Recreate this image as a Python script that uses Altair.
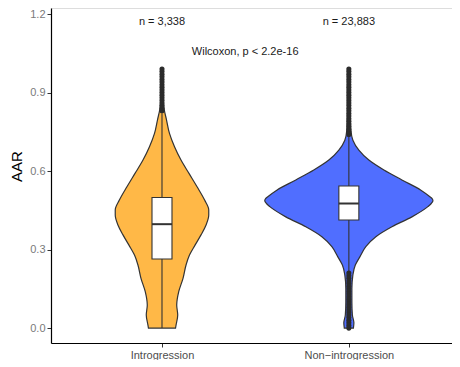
import altair as alt
import pandas as pd

# ---- data ----
groups = ["Introgression", "Non-introgression"]
group_pos = [1, 2]
fill_colors = ["#FFB847", "#506EFF"]

# violin profiles (AAR value, relative density width; max of all = 1)
intro_y = [0.0, 0.011, 0.05, 0.088, 0.139, 0.19, 0.241, 0.279, 0.317, 0.356, 0.394, 0.432,
           0.451, 0.489, 0.54, 0.591, 0.642, 0.693, 0.744, 0.795, 0.84, 0.871, 0.93, 0.99]
intro_d = [0.161, 0.167, 0.187, 0.175, 0.199, 0.25, 0.286, 0.327, 0.393, 0.464, 0.524, 0.556,
           0.556, 0.507, 0.417, 0.321, 0.226, 0.149, 0.089, 0.054, 0.024, 0.015, 0.01, 0.004]
non_y = [0.0, 0.02, 0.05, 0.10, 0.15, 0.203, 0.241, 0.272, 0.311, 0.349, 0.387, 0.425, 0.464,
         0.476, 0.487, 0.495, 0.502, 0.527, 0.566, 0.604, 0.642, 0.68, 0.718, 0.757, 0.80,
         0.90, 0.99]
non_d = [0.054, 0.06, 0.042, 0.036, 0.036, 0.048, 0.077, 0.131, 0.202, 0.321, 0.512, 0.75, 0.94,
         0.98, 1.0, 0.99, 0.964, 0.857, 0.631, 0.417, 0.238, 0.119, 0.048, 0.024, 0.018,
         0.012, 0.006]

# box statistics
q1 = [0.264, 0.413]
median = [0.397, 0.476]
q3 = [0.499, 0.543]
whisker_lo = [0.0, 0.215]
whisker_hi = [0.82, 0.735]

# outliers
intro_out = [0.83, 0.84, 0.85, 0.86, 0.87, 0.88, 0.89, 0.90, 0.91, 0.92, 0.93, 0.94, 0.95,
             0.96, 0.97, 0.98, 0.99]
non_out = [0.74, 0.75, 0.76, 0.77, 0.78, 0.79, 0.80, 0.81, 0.82, 0.83, 0.84, 0.85, 0.86, 0.87,
           0.88, 0.89, 0.90, 0.91, 0.92, 0.93, 0.94, 0.95, 0.96, 0.97, 0.98, 0.99,
           0.0, 0.01, 0.02, 0.03, 0.04, 0.05, 0.06, 0.07, 0.08, 0.09, 0.10, 0.11, 0.12,
           0.13, 0.14, 0.15, 0.16, 0.17, 0.18, 0.19, 0.20, 0.21]

n_labels = ["n = 3,338", "n = 23,883"]
test_label = "Wilcoxon, p < 2.2e-16"

# ---- tables ----
violin = pd.concat([
    pd.DataFrame({"group": groups[0], "pos": group_pos[0], "y": intro_y, "d": intro_d}),
    pd.DataFrame({"group": groups[1], "pos": group_pos[1], "y": non_y, "d": non_d}),
])
box = pd.DataFrame({"group": groups, "pos": group_pos, "q1": q1, "med": median, "q3": q3,
                    "lo": whisker_lo, "hi": whisker_hi})
outl = pd.concat([
    pd.DataFrame({"pos": group_pos[0], "v": intro_out}),
    pd.DataFrame({"pos": group_pos[1], "v": non_out}),
])
texts = pd.DataFrame({"pos": group_pos + [1.445], "yv": [1.169, 1.169, 1.055],
                      "label": n_labels + [test_label]})

FONT = "Liberation Sans"
xscale = alt.Scale(domain=[0.406, 2.552], nice=False, zero=False)
yscale = alt.Scale(domain=[-0.057, 1.223], nice=False, zero=False)

x_axis = alt.Axis(values=[1, 2], grid=False, tickSize=4, tickColor="#333333",
                  domainColor="#000000", domainWidth=1.2, labelFontSize=11,
                  labelColor="#4d4d4d", labelFont=FONT, labelPadding=2,
                  labelExpr="datum.value == 1 ? 'Introgression' : 'Non\u2212introgression'")
y_axis = alt.Axis(values=[0, 0.3, 0.6, 0.9, 1.2], format=".1f", grid=False, tickSize=4,
                  tickColor="#333333", domainColor="#000000", domainWidth=1.2,
                  labelFontSize=11, labelColor="#7a7a7a", labelFont=FONT, labelPadding=2,
                  title="AAR", titleFontSize=15, titleFontWeight="normal", titleColor="#000000",
                  titleFont=FONT, titleX=-35, titleY=158, titleAngle=270,
                  titleAlign="center", titleBaseline="middle")

violins = alt.Chart(violin).transform_calculate(
    xl="datum.pos - 0.45 * datum.d", xr="datum.pos + 0.45 * datum.d"
).mark_area(orient="horizontal", stroke="#333333", strokeWidth=1.2, opacity=1,
            fillOpacity=1, interpolate="monotone").encode(
    y=alt.Y("y:Q", scale=yscale, axis=y_axis),
    x=alt.X("xl:Q", scale=xscale, axis=x_axis, title=None, stack=None),
    x2="xr:Q",
    fill=alt.Fill("group:N", scale=alt.Scale(domain=groups, range=fill_colors), legend=None),
    detail="group:N",
)

whiskers = alt.Chart(box).mark_rule(color="#333333", strokeWidth=1.1).encode(
    x="pos:Q", y="lo:Q", y2="hi:Q")

boxes = alt.Chart(box).transform_calculate(
    bl="datum.pos - 0.0535", br="datum.pos + 0.0535"
).mark_rect(fill="white", stroke="#333333", strokeWidth=1.1).encode(
    x="bl:Q", x2="br:Q", y="q1:Q", y2="q3:Q")

medians = alt.Chart(box).transform_calculate(
    bl="datum.pos - 0.0535", br="datum.pos + 0.0535"
).mark_rule(color="#333333", strokeWidth=2).encode(x="bl:Q", x2="br:Q", y="med:Q")

points = alt.Chart(outl).mark_circle(color="#2b2b2b", size=26, opacity=1).encode(
    x="pos:Q", y="v:Q")

labels = alt.Chart(texts).mark_text(fontSize=11, font=FONT, color="#1a1a1a",
                                    align="center", baseline="middle").encode(
    x="pos:Q", y="yv:Q", text="label:N")

chart = alt.layer(violins, whiskers, boxes, medians, points, labels).properties(
    width=401, height=335,
    padding={"left": 43, "top": 0, "right": 0, "bottom": 17},
    autosize=alt.AutoSizeParams(type="none"),
).configure_view(stroke=None).configure(background="white")

chart.save("out.html", embed_options={"renderer": "svg", "actions": False})
